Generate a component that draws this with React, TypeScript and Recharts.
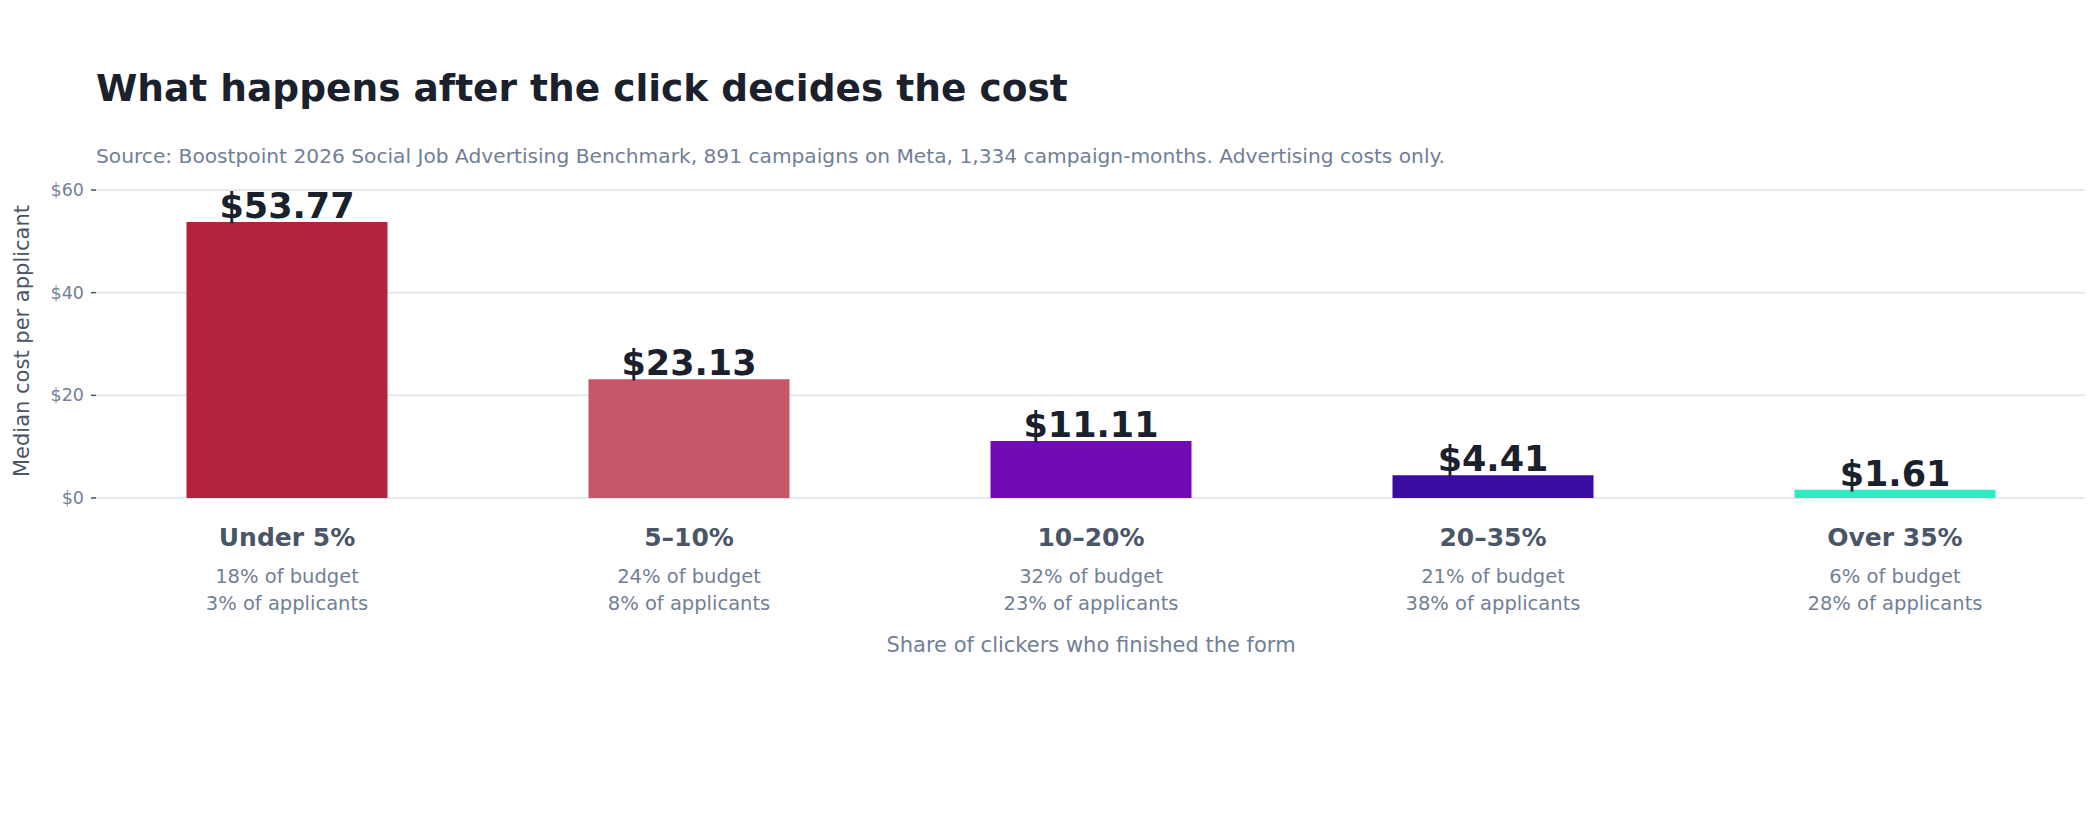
import React from 'react';
import { BarChart, Bar, XAxis, YAxis, CartesianGrid, Cell, LabelList } from 'recharts';

const categories = ['Under 5%', '5–10%', '10–20%', '20–35%', 'Over 35%'];
const costPerApplicant = [53.77, 23.13, 11.11, 4.41, 1.61];
const budgetShare = [18, 24, 32, 21, 6];
const applicantShare = [3, 8, 23, 38, 28];
const yTicks = [0, 20, 40, 60];
const barColors = ['#b3233b', '#c85669', '#720bb6', '#3a0ca3', '#2deac0'];

const data = categories.map((name, i) => ({
  name,
  cost: costPerApplicant[i],
  budget: budgetShare[i],
  applicants: applicantShare[i],
}));

const FONT = '"DejaVu Sans", sans-serif';

function YTick(props: any) {
  const { x, y, payload } = props;
  return (
    <g>
      <line x1={x + 5} x2={x + 10} y1={y} y2={y} stroke="#4a5568" strokeWidth={1.5} />
      <text x={x - 2} y={y + 6} textAnchor="end" fontSize={17.5} fill="#718096" fontFamily={FONT}>
        ${payload.value}
      </text>
    </g>
  );
}

function XTick(props: any) {
  const { x, y, index } = props;
  const row = data[index];
  return (
    <g fontFamily={FONT} textAnchor="middle">
      <text x={x} y={y + 48} fontSize={25} fontWeight="bold" fill="#4a5568">
        {row.name}
      </text>
      <text x={x} y={y + 85} fontSize={19.5} fill="#718096">
        {row.budget}% of budget
      </text>
      <text x={x} y={y + 112} fontSize={19.5} fill="#718096">
        {row.applicants}% of applicants
      </text>
    </g>
  );
}

function ValueLabel(props: any) {
  const { x, y, width, value } = props;
  return (
    <text
      x={x + width / 2}
      y={y - 4}
      textAnchor="middle"
      fontSize={35}
      fontWeight="bold"
      fill="#1a202c"
      fontFamily={FONT}
    >
      ${Number(value).toFixed(2)}
    </text>
  );
}

function XTitle(props: any) {
  const { viewBox } = props;
  return (
    <text
      x={viewBox.x + viewBox.width / 2}
      y={viewBox.y + 154}
      textAnchor="middle"
      fontSize={21}
      fill="#718096"
      fontFamily={FONT}
    >
      Share of clickers who finished the form
    </text>
  );
}

export default function App() {
  return (
    <div style={{ position: 'absolute', left: 0, top: 0, width: 2100, height: 820, background: '#fff' }}>
      <BarChart
        width={2100}
        height={820}
        data={data}
        margin={{ top: 190, right: 4, bottom: 0, left: 0 }}
        barCategoryGap="25%"
      >
        <CartesianGrid vertical={false} x={96} width={1989} stroke="#e6eaf0" strokeWidth={2} />
        <XAxis
          dataKey="name"
          height={322}
          axisLine={false}
          tickLine={false}
          tickSize={0}
          tickMargin={0}
          interval={0}
          tick={<XTick />}
          label={<XTitle />}
        />
        <YAxis
          width={86}
          domain={[0, 60]}
          ticks={yTicks}
          axisLine={false}
          tickLine={false}
          tickSize={0}
          tickMargin={0}
          tick={<YTick />}
        />
        <Bar dataKey="cost" isAnimationActive={false}>
          {data.map((d, i) => (
            <Cell key={d.name} fill={barColors[i]} />
          ))}
          <LabelList dataKey="cost" content={<ValueLabel />} />
        </Bar>
      </BarChart>
      <svg
        width={2100}
        height={820}
        style={{ position: 'absolute', left: 0, top: 0, pointerEvents: 'none' }}
        fontFamily={FONT}
      >
        <text x={96} y={101} fontSize={37.5} fontWeight="bold" fill="#1a202c">
          What happens after the click decides the cost
        </text>
        <text x={96} y={163} fontSize={20.2} fill="#718096">
          Source: Boostpoint 2026 Social Job Advertising Benchmark, 891 campaigns on Meta, 1,334 campaign-months. Advertising costs only.
        </text>
        <text
          x={29}
          y={341}
          fontSize={21}
          fill="#4a5568"
          textAnchor="middle"
          transform="rotate(-90 29 341)"
        >
          Median cost per applicant
        </text>
      </svg>
    </div>
  );
}
